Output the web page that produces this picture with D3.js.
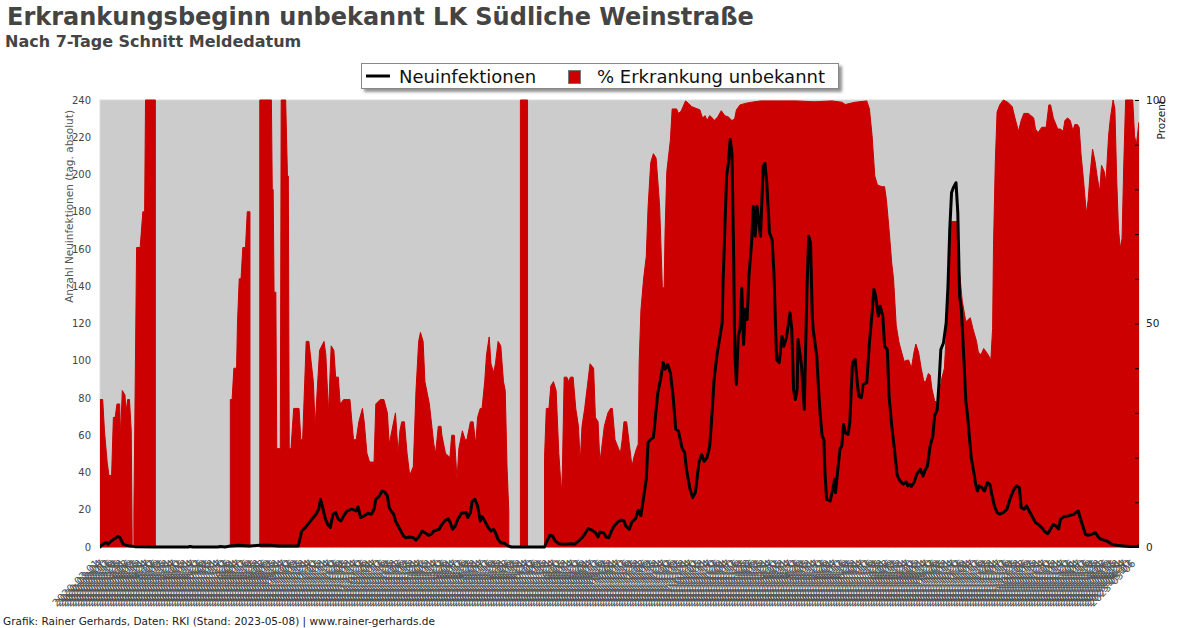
<!DOCTYPE html>
<html><head><meta charset="utf-8">
<script src="https://cdn.jsdelivr.net/npm/d3@7/dist/d3.min.js"></script>
<style>
body{margin:0;background:#fff;}
svg{display:block;font-family:"DejaVu Sans",sans-serif;}
</style>
</head><body>
<svg id="c" width="1200" height="628"></svg>
<script>
// ---------------- DATA ----------------
const startDate = "2020-03-01";        // day 0 of the series
const endDay = 1164;                     // last day shown (days after startDate)
const titleText = "Erkrankungsbeginn unbekannt LK Südliche Weinstraße";
const subtitleText = "Nach 7-Tage Schnitt Meldedatum";
const footerText = "Grafik: Rainer Gerhards, Daten: RKI (Stand: 2023-05-08) | www.rainer-gerhards.de";
const seriesNames = ["Neuinfektionen", "% Erkrankung unbekannt"];
const leftAxisTitle = "Anzahl Neuinfektionen (tag. absolut)";
const rightAxisTitle = "Prozent";
const leftTicks = [0,20,40,60,80,100,120,140,160,180,200,220,240];
const rightMinorTicks = [0,10,20,30,40,50,60,70,80,90,100];
const rightTickLabels = [0,50,100];
const xLabelEveryDays = 3;

// Neuinfektionen (7-Tage-Schnitt), [day after startDate, value]
const neuinfektionen = [
[0,0],[2,1],[5,2],[8,2.4],[9,1.5],[12,3],[15,4],[18,5],[20,5.7],[22,5.3],[24,3.5],[26,1.5],[29,1],[32,0.7],[39,0.2],[62,0],[99,0],[101,0.3],[104,0],[132,0],[135,0.3],[140,0],[146,0.5],[155,1],[169,0.5],[179,1],[190,1],[200,0.5],[222,0.5],
[223,2.3],[226,8.6],[230,10.4],[233,12.2],[236,14],[239,15.8],[242,17.6],[245,20.3],[247,25.6],[250,20.3],[252,15.8],[255,12.2],[258,10.4],[261,17.6],[264,18.5],[267,14.9],[270,14],[273,16.7],[277,19.4],[282,20.3],[287,19.4],[289,21.7],[292,15.8],[296,16.7],[300,18.1],[304,17.6],[307,20.3],[309,25.6],[313,27.4],[316,30],[319,29.5],[322,27.4],[324,21.2],[326,19.4],[329,17.6],[331,14],[334,11.3],[337,8.6],[340,5.9],[343,5],[347,5.4],[351,5],[354,3.7],[357,5.4],[361,8.6],[364,7.7],[368,6.3],[371,6.8],[374,8.6],[377,9.1],[380,9.5],[382,11.3],[386,14],[390,15.2],[392,13.5],[395,9.5],[398,11.3],[401,15],[405,18.1],[410,18.5],[412,15.8],[415,18.5],[417,24.7],[420,25.6],[423,22.1],[426,14],[428,16.3],[431,14],[435,10.4],[438,8.6],[441,9.5],[443,7.7],[446,4.1],[449,2.3],[453,2],[457,0.6],[461,0],[498,0],
[500,2.3],[504,6.3],[507,5.9],[510,3.2],[514,1.8],[521,1.5],[528,1.8],[532,1.5],[536,3.2],[540,5],[543,6.8],[547,9.9],[551,9.1],[555,7.7],[558,5.4],[560,8],[564,7.7],[567,5.4],[570,5],[573,8.6],[576,11.3],[580,13.4],[584,14.5],[587,14],[589,11.3],[593,9.5],[596,13.5],[600,15.2],[603,19.7],[606,16.9],[609,26.5],[612,36.4],[614,56],[617,57.9],[620,58.8],[622,68.6],[625,83],[628,90],[631,99],[633,95.5],[636,98],[639,93.6],[642,81],[645,63.3],[648,62.3],[652,53.3],[655,50.6],[657,41.7],[661,31],[664,26.5],[667,29.2],[671,45.3],[674,49.6],[677,46],[680,47.9],[683,54],[685,66.8],[688,90],[691,102.5],[694,111.4],[697,120.4],[698,141.8],
[700,170.5],[702,199.1],[704,206.2],[706,218.8],[708,211.6],[710,152.6],[711,106],[713,87.3],[715,113.2],[717,116.8],[719,139],[721,108.7],[723,127.6],[725,122.2],[727,145.4],[730,163.3],[732,183],[734,166.9],[736,183],[740,166.9],[743,204.5],[745,206],[747,195.6],[750,168.7],[753,165],[755,147.2],[758,100.7],[761,99],[764,113.2],[766,107.8],[769,112.3],[773,125.7],[775,116.8],[777,84.6],[779,79.2],[781,84.6],[782,111.4],[786,97],[789,73.9],[791,116.8],[792,138.3],[794,166.9],[796,163.3],[798,123.9],[799,116.8],
[801,109.7],[803,102.5],[805,84.6],[807,70.3],[809,59.6],[811,57.8],[812,41.7],[814,25.6],[818,24.7],[821,31],[823,36.4],[824,29.2],[827,43.5],[829,52.4],[831,54.2],[833,65.8],[835,61.3],[838,60.4],[840,66.7],[843,99],[846,100.7],[848,90],[850,81],[853,80.1],[855,87.3],[859,88.2],[862,109.7],[865,125.7],[867,138.3],[869,134.7],[872,124],[874,129.3],[877,124],[879,107.8],[882,106],[884,81],[887,65],[890,52.4],[893,39],[895,36.4],[898,34.6],
[900,33.7],[903,35],[905,32.8],[907,33.7],[909,32.5],[912,34.6],[915,39],[919,41.7],[922,38.1],[924,40.8],[927,43.5],[930,54.2],[933,59.6],[935,70.3],[938,73.9],[940,88.2],[942,106],[945,109.7],[948,120.4],[950,140],[952,170.5],[954,190.2],[956,192.9],[959,195.6],[961,179.5],[963,134.7],[965,127.6],[968,99],[970,78.3],[972,70.3],[976,48],[979,39.9],[981,33.7],[983,30.1],[985,32.8],[988,31.9],[991,30.1],[994,34.6],[997,33.7],[999,28.4],
[1002,22.1],[1005,18.5],[1008,17.6],[1012,18.5],[1016,20.3],[1020,26.5],[1024,31],[1027,32.8],[1030,31.9],[1032,21.2],[1035,20.3],[1038,22.1],[1040,20.3],[1042,18.5],[1045,15.8],[1048,13.1],[1051,12.2],[1055,10.4],[1059,8],[1062,7.2],[1065,9.7],[1068,12.2],[1071,11.3],[1074,9.7],[1076,14.9],[1080,16.3],[1085,16.7],[1091,17.6],[1094,18.8],[1096,19.4],[1098,15.8],[1101,11.3],[1104,6.8],[1107,6.3],[1111,6.8],[1115,7.7],[1119,5],[1122,4.1],[1128,3.2],[1134,1.4],[1139,0.9],[1147,0.5],[1154,0.3],[1161,0.3],[1164,0.6]
];

// % Erkrankungsbeginn unbekannt, [day after startDate, percent]; null = no cases (gap)
const prozentUnbekannt = [
[0,33],[3,33],[5,26],[8,19],[10,16],[13,16],[15,29],[17,29],[19,32],[22,32],[23,25],[25,35],[28,34],[29,30],[31,33],[33,33],[35,26],[36,2],[37,null],[38,8],[41,67],[45,67],[48,75],[50,75],[51,100],[62,100],[63,null],
[146,33],[148,33],[150,40],[153,40],[154,50],[156,60],[158,60],[160,67],[163,67],[165,75],[168,75],[169,null],
[179,100],[192,100],[193,80],[194,80],[195,57],[197,57],[198,22],[202,22],[203,100],[208,100],[210,83],[211,83],[212,22],[214,22],[217,31],[223,31],[225,24],[227,24],[231,46],[234,46],[239,37],[241,27],[246,44],[251,46],[253,43],[256,30],[259,45],[262,44],[264,38],[267,38],[269,32],[273,33],[277,33],[280,33],[284,24],[287,24],[290,28],[294,31],[296,28],[299,21],[302,19],[307,19],[309,32],[314,33],[318,33],[322,30],[324,23],[327,26],[331,30],[334,21],[336,26],[338,28],[341,28],[344,21],[347,16],[351,18],[354,35],[357,46],[359,48],[362,46],[364,37],[369,32],[374,23],[376,21],[379,27],[382,27],[383,25],[387,21],[392,20],[394,25],[397,25],[400,15],[402,22],[406,26],[409,24],[411,24],[415,28],[418,28],[421,23],[423,29],[426,31],[428,31],[431,37],[433,43],[436,47],[438,41],[441,39],[443,41],[446,46],[449,45],[452,37],[454,35],[456,18],[458,8],[459,null],
[471,100],[479,100],[480,null],
[498,20],[500,31],[503,31],[505,36],[508,37],[511,35],[514,21],[517,12],[518,17],[520,38],[523,38],[525,37],[527,38],[530,38],[533,31],[536,27],[538,19],[540,27],[543,31],[546,36],[549,41],[553,40],[555,29],[558,28],[560,19],[562,22],[565,27],[569,30],[572,31],[574,31],[577,24],[581,22],[583,21],[585,24],[587,28],[590,28],[593,23],[596,18],[598,20],[601,22],[603,23],[604,41],[606,53],[609,60],[612,65],[614,76],[617,86],[620,88],[623,87],[626,79],[627,76],[630,58],[632,58],[633,70],[635,84],[639,91],[641,98],[646,98],[648,97],[651,97.5],[656,99.8],[659,99.3],[663,98.5],[672,97.8],[675,96],[678,96.5],[680,95.4],[683,96.5],[685,96.2],[688,95.4],[692,96.2],[696,97.6],[700,96.5],[704,96.2],[708,95.4],[711,95.8],[713,97.8],[717,98.9],[724,99.3],[730,99.5],[740,99.8],[760,99.8],[780,99.8],[800,99.6],[820,99.8],[831,99.5],[835,99],[846,99.5],[859,99.8],
[862,98],[865,92],[867,86],[868,83],[871,81],[876,80.6],[879,80.6],[881,77.7],[884,71],[887,63.5],[889,60],[892,49.6],[895,45.9],[898,43.6],[901,41.5],[904,41.8],[906,41.8],[909,40],[912,43.6],[914,45.4],[917,43.6],[920,40],[923,37],[925,37],[928,38.8],[930,38.5],[932,35.4],[935,32.8],[938,32.1],[940,34],[943,37.7],[946,40],[950,54.9],[952,65.3],[954,72.8],[960,72.8],[962,63.5],[966,55],[970,50.4],[975,51.3],[978,48.8],[982,46],[984,43.6],[987,43],[990,44.4],[993,43.6],[995,43],[998,41.8],
[1000,48.9],[1001,67.5],[1003,86],[1005,97.3],[1008,98.9],[1012,100],[1017,99.5],[1022,98.5],[1025,96],[1029,93],[1032,95.4],[1035,97],[1040,97],[1046,96],[1048,93.5],[1051,92.7],[1055,93.9],[1060,93.9],[1063,98.9],[1065,98.9],[1068,96],[1073,93.5],[1076,93.5],[1079,93],[1081,95.4],[1084,96],[1087,95.4],[1090,93.1],[1092,94.5],[1095,94.5],[1097,93.9],[1099,88],[1102,81.7],[1105,74.6],[1107,77.5],[1109,83],[1112,89],[1115,86],[1117,83],[1120,79.5],[1122,85.4],[1125,84],[1127,81.7],[1130,92.2],[1132,96],[1135,100],[1137,98],[1139,82.3],[1141,71.2],[1143,66.8],[1145,69],[1147,86],[1149,100],[1157,100],[1159,92],[1161,90],[1164,95]
];

// ---------------- CHART ----------------
const parse = d3.timeParse("%Y-%m-%d");
const fmt = d3.timeFormat("%Y-%m-%d");
const start = parse(startDate);
const toDate = d => d3.timeDay.offset(start, d);
const xTickDates = d3.range(0, endDay, xLabelEveryDays).map(toDate);

const P = {l:100, r:1139, t:100, b:547};
const svg = d3.select("#c");
const defs = svg.append("defs");
defs.append("clipPath").attr("id","plotclip").append("rect")
  .attr("x",P.l).attr("y",P.t-2).attr("width",P.r-P.l).attr("height",P.b-P.t+4);
const f = defs.append("filter").attr("id","shadow").attr("x","-5%").attr("y","-30%").attr("width","115%").attr("height","180%");
f.append("feDropShadow").attr("dx",3).attr("dy",3).attr("stdDeviation",1.6).attr("flood-color","#777").attr("flood-opacity",0.8);

const x = d3.scaleTime().domain([toDate(0), toDate(endDay)]).range([P.l, P.r]);
const yL = d3.scaleLinear().domain([0,240]).range([P.b, P.t]);
const yR = d3.scaleLinear().domain([0,100]).range([P.b, P.t]);

// plot background
svg.append("rect").attr("x",P.l).attr("y",P.t).attr("width",P.r-P.l).attr("height",P.b-P.t)
  .attr("fill","#cccccc").attr("stroke","#dcdcdc").attr("stroke-width",1);

const g = svg.append("g").attr("clip-path","url(#plotclip)");
const area = d3.area().defined(d => d[1] != null)
  .x(d => x(toDate(d[0]))).y0(yR(0)).y1(d => yR(d[1]));
g.append("path").datum(prozentUnbekannt).attr("d", area)
  .attr("fill","#cc0000").attr("stroke","#cc0000").attr("stroke-width",1).attr("stroke-linejoin","round");

const line = d3.line().x(d => x(toDate(d[0]))).y(d => yL(d[1]));
g.append("path").datum(neuinfektionen).attr("d", line)
  .attr("fill","none").attr("stroke","#000").attr("stroke-width",3).attr("stroke-linejoin","round").attr("stroke-linecap","round");

// left axis
const ax = svg.append("g").attr("transform",`translate(${P.l},0)`)
  .call(d3.axisLeft(yL).tickValues(leftTicks).tickSize(0).tickPadding(9));
ax.select(".domain").remove();
ax.selectAll("text").attr("font-size",10).attr("fill","#444").attr("font-family","DejaVu Sans");

// right axis: minor ticks inward + labels
const ar = svg.append("g").attr("transform",`translate(${P.r},0)`)
  .call(d3.axisLeft(yR).tickValues(rightMinorTicks).tickSize(4).tickFormat(""));
ar.select(".domain").remove();
ar.selectAll("line").attr("stroke","#000");
const ar2 = svg.append("g").attr("transform",`translate(${P.r},0)`)
  .call(d3.axisRight(yR).tickValues(rightTickLabels).tickSize(0).tickPadding(7));
ar2.select(".domain").remove();
ar2.selectAll("text").attr("font-size",10.5).attr("fill","#222").attr("font-family","DejaVu Sans");

// axis titles
svg.append("text").attr("transform",`translate(73,${P.t+10}) rotate(-90)`)
  .attr("text-anchor","end").attr("font-size",10.5).attr("fill","#555").text(leftAxisTitle);
svg.append("text").attr("transform",`translate(1165,${P.t}) rotate(-90)`)
  .attr("text-anchor","end").attr("font-size",10.5).attr("fill","#222").text(rightAxisTitle);

// x axis labels
svg.append("g").selectAll("text").data(xTickDates).join("text")
  .attr("transform", d => `translate(${x(d)},${P.b+17}) rotate(-45)`)
  .attr("text-anchor","end").attr("font-size",10.5).attr("fill","#555")
  .text(d => fmt(d));

// titles
svg.append("text").attr("x",7).attr("y",25).attr("font-size",24).attr("font-weight","bold").attr("fill","#444").text(titleText);
svg.append("text").attr("x",5).attr("y",47).attr("font-size",16).attr("font-weight","bold").attr("fill","#444").text(subtitleText);
svg.append("text").attr("x",3).attr("y",625).attr("font-size",10.5).attr("fill","#222").text(footerText);

// legend
const lg = svg.append("g");
lg.append("rect").attr("x",361.5).attr("y",63.5).attr("width",477).attr("height",25)
  .attr("fill","#fff").attr("stroke","#888").attr("filter","url(#shadow)");
lg.append("line").attr("x1",366).attr("x2",390).attr("y1",76).attr("y2",76).attr("stroke","#000").attr("stroke-width",3);
lg.append("text").attr("x",399).attr("y",83).attr("font-size",18).attr("fill","#111").text(seriesNames[0]);
lg.append("rect").attr("x",568.5).attr("y",70.5).attr("width",12).attr("height",13).attr("fill","#cc0000").attr("stroke","#777");
lg.append("text").attr("x",597).attr("y",83).attr("font-size",18).attr("fill","#111").text(seriesNames[1]);
</script>
</body></html>
